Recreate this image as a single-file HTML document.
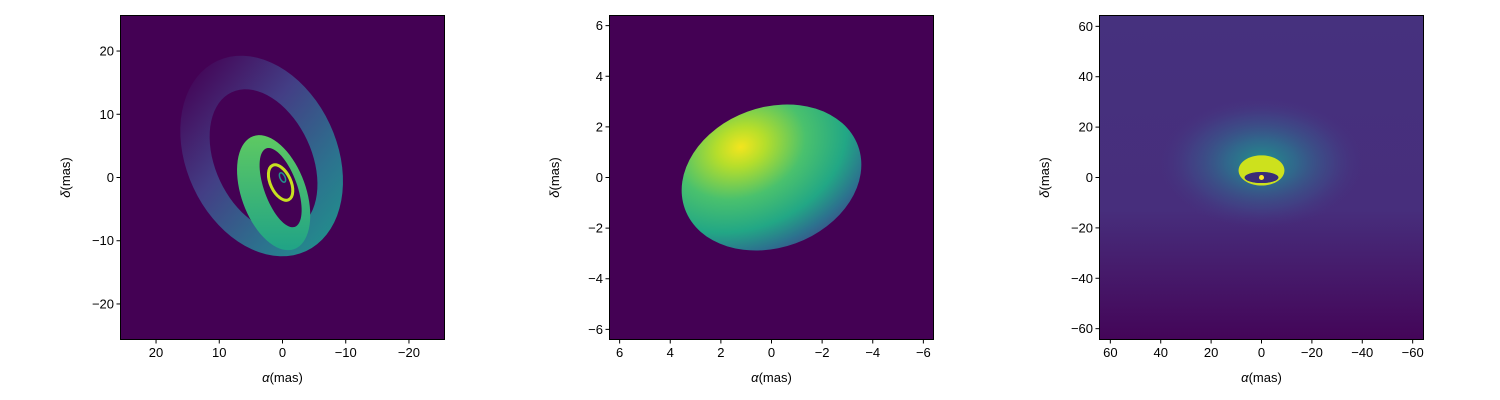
<!DOCTYPE html>
<html><head><meta charset="utf-8"><style>
body{margin:0;background:#fff;}
svg{display:block;font-family:"Liberation Sans","DejaVu Sans",sans-serif;}
</style></head><body>
<svg id="fig" width="1500" height="400" viewBox="0 0 1500 400">
<defs>
<linearGradient id="outerG" x1="0" y1="0.1" x2="0.9" y2="1">
<stop offset="0" stop-color="#440154"/><stop offset="0.4" stop-color="#433e85"/><stop offset="0.75" stop-color="#2c728e"/><stop offset="1" stop-color="#21918c"/></linearGradient>
<linearGradient id="greenG" x1="0" y1="0" x2="0" y2="1">
<stop offset="0" stop-color="#5ec962"/><stop offset="1" stop-color="#20a386"/></linearGradient>
<radialGradient id="blobG" cx="0.4" cy="0.22" r="0.9">
<stop offset="0" stop-color="#f3e51e"/><stop offset="0.15" stop-color="#b5de2b"/><stop offset="0.4" stop-color="#4ac16d"/><stop offset="0.65" stop-color="#22a785"/><stop offset="0.82" stop-color="#2c728e"/><stop offset="0.95" stop-color="#3e4a89"/><stop offset="1" stop-color="#46327e"/></radialGradient>
<linearGradient id="bgR" x1="0" y1="0" x2="0" y2="1">
<stop offset="0" stop-color="#46317e"/><stop offset="0.6" stop-color="#472e7c"/><stop offset="1" stop-color="#440558"/></linearGradient>
<radialGradient id="haloG"><stop offset="0" stop-color="#21918c"/><stop offset="0.35" stop-color="#2d708e" stop-opacity="0.85"/><stop offset="0.7" stop-color="#3b528b" stop-opacity="0.5"/><stop offset="1" stop-color="#443983" stop-opacity="0"/></radialGradient>
<clipPath id="c0"><rect x="120" y="15" width="325" height="325"/></clipPath>
<clipPath id="c1"><rect x="609" y="15" width="325" height="325"/></clipPath>
<clipPath id="c2"><rect x="1099" y="15" width="325" height="325"/></clipPath>
</defs>
</svg>
<script>
// tick labels per panel
const ticks0 = [20, 10, 0, -10, -20];
const ticks1 = [6, 4, 2, 0, -2, -4, -6];
const ticks2 = [60, 40, 20, 0, -20, -40, -60];
// panel ranges (half-width in mas)
const range0 = 25.7, range1 = 6.42, range2 = 64.5;
// left panel features: [alpha, delta, rx, ry, rotation]
const leftOuter = [3.3, 3.4, 11.9, 16.6, -25];
const leftHole = [3.0, 2.7, 7.6, 11.9, -25];
const greenOuter = [1.4, -2.4, 5.1, 9.5, -20];
const greenHole = [0.3, -1.6, 2.6, 6.6, -20];
const yellowRing = [0.3, -0.8, 1.6, 3.0, -25];
// middle blob
const blob = [0, 0, 3.64, 2.77, -20];
// right panel
const halo = [0, 6, 40, 26, 0];
const ringOuter = [0, 2.8, 9.1, 6.0, 0];
const ringHole = [0, 0, 6.7, 2.2, 0];

const NS = "http://www.w3.org/2000/svg";
const svg = document.getElementById('fig');
const panels = [{x0:120,ticks:ticks0,r:range0},{x0:609,ticks:ticks1,r:range1},{x0:1099,ticks:ticks2,r:range2}];
const Y0 = 15, S = 325;
function mk(tag, attrs, parent){const e=document.createElementNS(NS,tag);for(const k in attrs)e.setAttribute(k,attrs[k]);(parent||svg).appendChild(e);return e;}
function sx(p,a){return p.x0+S/2 - a*(S/2)/p.r;}
function sy(p,d){return Y0+S/2 - d*(S/2)/p.r;}
function sc(p,v){return v*(S/2)/p.r;}
function ell(p,f,attrs,parent){
  const cx=sx(p,f[0]), cy=sy(p,f[1]);
  return mk('ellipse',Object.assign({cx:cx,cy:cy,rx:sc(p,f[2]),ry:sc(p,f[3]),transform:`rotate(${f[4]} ${cx} ${cy})`},attrs),parent);
}
function ringPath(p,o,h){
  function ep(f){const cx=sx(p,f[0]),cy=sy(p,f[1]),rx=sc(p,f[2]),ry=sc(p,f[3]),t=f[4]*Math.PI/180;let s='';
    for(let i=0;i<=72;i++){const u=i/72*2*Math.PI;const x=rx*Math.cos(u),y=ry*Math.sin(u);
      s+=(i?'L':'M')+(cx+x*Math.cos(t)-y*Math.sin(t)).toFixed(2)+' '+(cy+x*Math.sin(t)+y*Math.cos(t)).toFixed(2);}
    return s+'Z';}
  return ep(o)+ep(h);
}
panels.forEach((p,i)=>{
  const g=mk('g',{'clip-path':`url(#c${i})`});
  
  
  mk('rect',{x:p.x0,y:Y0,width:S,height:S,fill:i==2?'url(#bgR)':'#440154'},g);
  if(i==0){
    const a=mk('path',{d:ringPath(p,leftOuter,leftHole),fill:'url(#outerG)','fill-rule':'evenodd'},g);
    
    
    const b=mk('path',{d:ringPath(p,greenOuter,greenHole),fill:'url(#greenG)','fill-rule':'evenodd'},g);
    
    
    const c=ell(p,yellowRing,{fill:'none',stroke:'#c8e020','stroke-width':3},g);
    
    
    ell(p,[0,0,0.4,0.8,-25],{fill:'none',stroke:'#21918c','stroke-width':1.5},g);
  } else if(i==1){
    const b=ell(p,blob,{fill:'url(#blobG)'},g);
    
    
  } else {
    const h=ell(p,halo,{fill:'url(#haloG)'},g);
    
    
    const r=mk('path',{d:ringPath(p,ringOuter,ringHole),fill:'#cde11d','fill-rule':'evenodd'},g);
    
    
    ell(p,ringHole,{fill:'#3b2c78'},g);
    ell(p,[0,0,1,1,0],{fill:'#fde725'},g);
  }
  mk('rect',{x:p.x0+0.5,y:Y0+0.5,width:S-1,height:S-1,fill:'none',stroke:'#000','stroke-width':1});
  p.ticks.forEach(t=>{
    const x=sx(p,t), y=sy(p,t);
    mk('line',{x1:x,y1:Y0+S,x2:x,y2:Y0+S+3.5,stroke:'#000'});
    const tx=mk('text',{x:x,y:Y0+S+17,'text-anchor':'middle','font-size':13,fill:'#000'});
    tx.textContent=String(t).replace('-','\u2212');
    
    
    mk('line',{x1:p.x0,y1:y,x2:p.x0-3.5,y2:y,stroke:'#000'});
    const ty=mk('text',{x:p.x0-6,y:y+4.5,'text-anchor':'end','font-size':13,fill:'#000'});
    ty.textContent=String(t).replace('-','\u2212');
    
    
  });
  const xl=mk('text',{x:p.x0+S/2,y:382,'text-anchor':'middle','font-size':13});
  xl.innerHTML='<tspan font-style="italic">α</tspan>(mas)';
  
  
  const yx=p.x0-50, yy=Y0+S/2;
  const yl=mk('text',{x:yx,y:yy,'text-anchor':'middle','font-size':13,transform:`rotate(-90 ${yx} ${yy})`});
  yl.innerHTML='<tspan font-style="italic">δ</tspan>(mas)';
  
  
});
</script>
</body></html>
